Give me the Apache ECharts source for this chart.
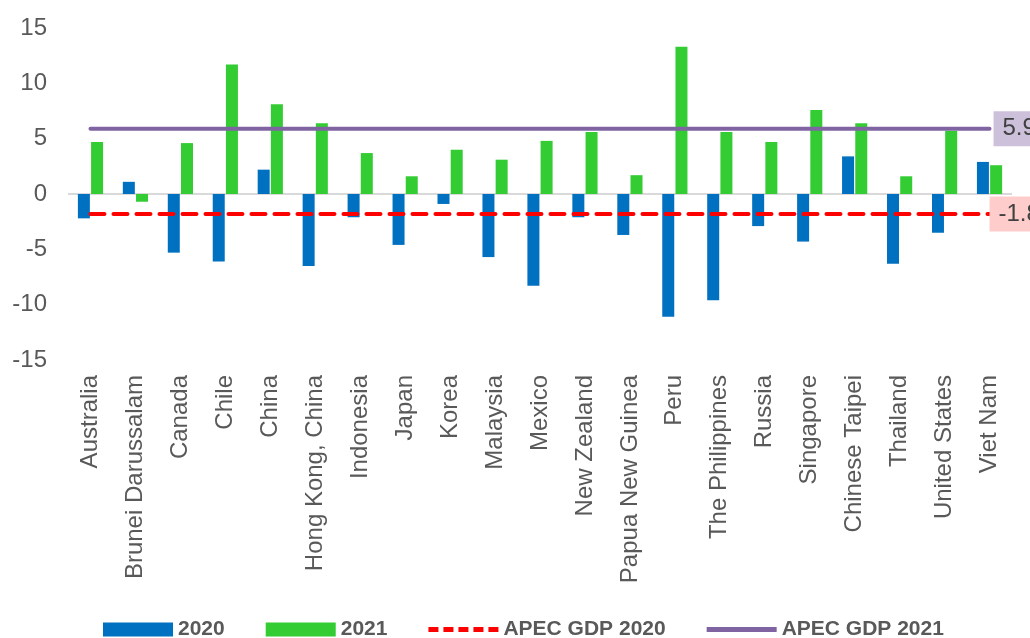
<!DOCTYPE html>
<html>
<head>
<meta charset="utf-8">
<script src="https://cdn.jsdelivr.net/npm/echarts@6/dist/echarts.min.js"></script>
<style>
html,body{margin:0;padding:0;background:#fff;}
#chart{width:1030px;height:638px;}
</style>
</head>
<body>
<div id="chart"></div>
<script>
const categories = ['Australia','Brunei Darussalam','Canada','Chile','China','Hong Kong, China','Indonesia','Japan','Korea','Malaysia','Mexico','New Zealand','Papua New Guinea','Peru','The Philippines','Russia','Singapore','Chinese Taipei','Thailand','United States','Viet Nam'];
const gdp2020 = [-2.2, 1.1, -5.3, -6.1, 2.2, -6.5, -2.1, -4.6, -0.9, -5.7, -8.3, -2.1, -3.7, -11.1, -9.6, -2.9, -4.3, 3.4, -6.3, -3.5, 2.9];
const gdp2021 = [4.7, -0.7, 4.6, 11.7, 8.1, 6.4, 3.7, 1.6, 4.0, 3.1, 4.8, 5.6, 1.7, 13.3, 5.6, 4.7, 7.6, 6.4, 1.6, 5.7, 2.6];
const apec2020 = [-1.8, -1.8, -1.8, -1.8, -1.8, -1.8, -1.8, -1.8, -1.8, -1.8, -1.8, -1.8, -1.8, -1.8, -1.8, -1.8, -1.8, -1.8, -1.8, -1.8, -1.8];
const apec2021 = [5.9, 5.9, 5.9, 5.9, 5.9, 5.9, 5.9, 5.9, 5.9, 5.9, 5.9, 5.9, 5.9, 5.9, 5.9, 5.9, 5.9, 5.9, 5.9, 5.9, 5.9];
const yTicks = {min: -15, max: 15, interval: 5};

const FONT = 'Liberation Sans, Arial, sans-serif';
const chart = echarts.init(document.getElementById('chart'));

function endLabel(bg, dist) {
  return {
    show: true,
    distance: dist,
    formatter: p => String(p.value),
    backgroundColor: bg,
    padding: [6, 10, 5, 9],
    fontSize: 24,
    color: '#404040',
    fontFamily: FONT
  };
}

const dashIcon = 'path://M0,0h10v5h-10z M15,0h10v5h-10z M30,0h10v5h-10z M45,0h10v5h-10z M60,0h10v5h-10z';
const solidIcon = 'path://M0,0h72v5h-72z';

chart.setOption({
  animation: false,
  backgroundColor: '#fff',
  textStyle: {fontFamily: FONT},
  grid: {left: 68, right: 18, top: 28, bottom: 278, containLabel: false},
  legend: {
    top: 614,
    left: 98,
    itemWidth: 70,
    itemHeight: 14,
    itemGap: 41,
    textStyle: {fontSize: 21, fontWeight: 'bold', color: '#595959', fontFamily: FONT},
    data: [
      {name: '2020', icon: 'rect'},
      {name: '2021', icon: 'rect'},
      {name: 'APEC GDP 2020', icon: dashIcon, itemStyle: {color: '#FF0000'}},
      {name: 'APEC GDP 2021', icon: solidIcon, itemStyle: {color: '#8064A2'}}
    ]
  },
  xAxis: {
    type: 'category',
    data: categories,
    axisLine: {show: false},
    axisTick: {show: false},
    axisLabel: {rotate: 90, interval: 0, margin: 15, fontSize: 24, color: '#595959', fontFamily: FONT}
  },
  yAxis: {
    type: 'value',
    min: yTicks.min,
    max: yTicks.max,
    interval: yTicks.interval,
    axisLine: {show: false},
    axisTick: {show: false},
    splitLine: {show: false},
    axisLabel: {fontSize: 24, color: '#595959', margin: 21, fontFamily: FONT}
  },
  series: [
    {
      name: '2020', type: 'bar', data: gdp2020,
      barWidth: 12, barGap: '10%',
      itemStyle: {color: '#0070C0'},
      z: 2,
      markLine: {
        silent: true, symbol: 'none', label: {show: false},
        lineStyle: {color: '#D9D9D9', width: 2, type: 'solid'},
        data: [{yAxis: 0}],
        z: 1
      }
    },
    {
      name: '2021', type: 'bar', data: gdp2021,
      barWidth: 12,
      itemStyle: {color: '#33CC33'},
      z: 2
    },
    {
      name: 'APEC GDP 2020', type: 'line', data: apec2020,
      symbol: 'none',
      lineStyle: {color: '#FF0000', width: 4, type: [14, 9], cap: 'round'},
      itemStyle: {color: '#FF0000'},
      endLabel: endLabel('#FFCCCC', 0),
      z: 5
    },
    {
      name: 'APEC GDP 2021', type: 'line', data: apec2021,
      symbol: 'none',
      lineStyle: {color: '#8064A2', width: 4, cap: 'round'},
      itemStyle: {color: '#8064A2'},
      endLabel: endLabel('#CCC0DA', 4),
      z: 5
    }
  ]
});
</script>
</body>
</html>
